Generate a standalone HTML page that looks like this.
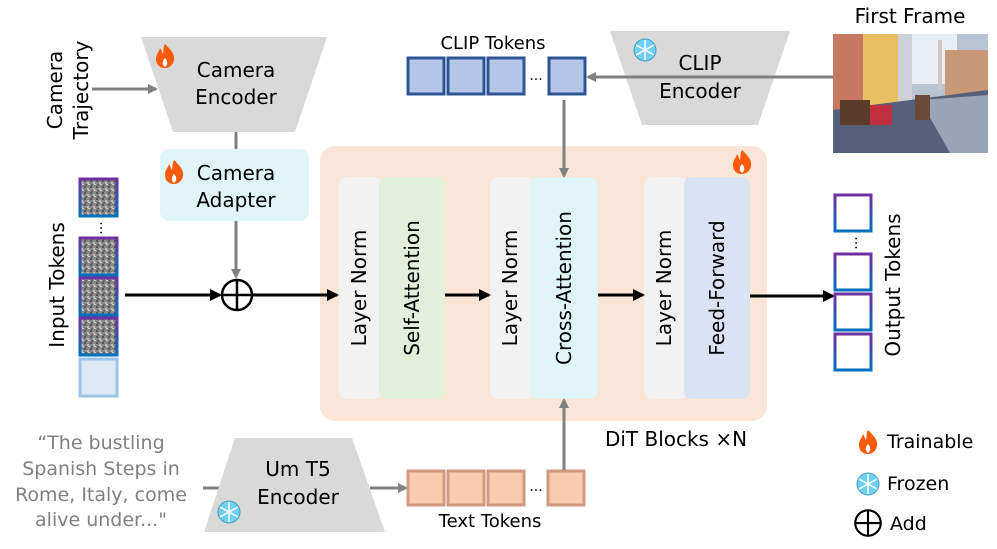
<!DOCTYPE html>
<html><head><meta charset="utf-8"><style>
html,body{margin:0;padding:0;background:#fff}
svg text{font-family:"DejaVu Sans","Liberation Sans",sans-serif}
</style></head><body>
<svg width="997" height="544" viewBox="0 0 997 544" xmlns="http://www.w3.org/2000/svg">
<defs>
<marker id="ag" markerWidth="10" markerHeight="10" refX="8" refY="5" orient="auto" markerUnits="userSpaceOnUse"><path d="M0,0 L10,5 L0,10 z" fill="#808080"/></marker>
<marker id="ab" markerWidth="12" markerHeight="12" refX="10" refY="6" orient="auto" markerUnits="userSpaceOnUse"><path d="M0,0 L12,6 L0,12 z" fill="#000"/></marker>
<linearGradient id="tg" x1="0" y1="0" x2="0" y2="1"><stop offset="0" stop-color="#7030a0"/><stop offset="1" stop-color="#0070c0"/></linearGradient>
<pattern id="noise" width="6" height="6" patternUnits="userSpaceOnUse"><rect width="6" height="6" fill="#888"/><rect x="0" y="0" width="2" height="2" fill="#555"/><rect x="3" y="2" width="2" height="2" fill="#bbb"/><rect x="1" y="4" width="2" height="2" fill="#666"/><rect x="4" y="4" width="2" height="1" fill="#ccc"/></pattern>
<g id="flame"><path d="M0,-12 C6,-6 10,-2 9,4 C8,10 3,12 0,12 C-5,12 -9,9 -9,3 C-9,-2 -6,-4 -5,-8 C-3,-5 -3,-3 -2,-2 C-1,-6 -2,-9 0,-12 z" fill="#ff5a0a"/><path d="M0,2 C3,5 3,9 0,11 C-3,9 -3,5 0,2z" fill="#fff"/></g>
<g id="snow"><circle r="11" fill="#6fd0f5" stroke="#4a9cc0" stroke-width="1"/><path d="M0,-10 V10 M-9,-5 L9,5 M-9,5 L9,-5" stroke="#fff" stroke-width="1.5"/></g>
<g id="plus"><circle r="15" fill="none" stroke="#000" stroke-width="2.5"/><path d="M-15,0 H15 M0,-15 V15" stroke="#000" stroke-width="2.5"/></g>
</defs>

<text transform="translate(62,90) rotate(-90)" font-size="20" text-anchor="middle">Camera</text>
<text transform="translate(88,90) rotate(-90)" font-size="20" text-anchor="middle">Trajectory</text>
<line x1="92" y1="89" x2="156" y2="89" stroke="#808080" stroke-width="3" marker-end="url(#ag)"/>

<polygon points="141,37 327,37 295,132 173,132" fill="#d9d9d9"/>
<use href="#flame" x="165" y="56"/>
<text x="236" y="77" font-size="20" text-anchor="middle">Camera</text>
<text x="236" y="104" font-size="20" text-anchor="middle">Encoder</text>
<line x1="236" y1="132" x2="236" y2="150" stroke="#808080" stroke-width="3"/>

<rect x="160" y="149" width="149" height="72" rx="9" fill="#dff5f8"/>
<use href="#flame" x="174" y="172"/>
<text x="236" y="180" font-size="20" text-anchor="middle">Camera</text>
<text x="236" y="207" font-size="20" text-anchor="middle">Adapter</text>
<line x1="236" y1="221" x2="236" y2="277" stroke="#808080" stroke-width="3" marker-end="url(#ag)"/>
<use href="#plus" x="237" y="295"/>

<text transform="translate(64,285) rotate(-90)" font-size="20" text-anchor="middle">Input Tokens</text>
<g>
<rect x="80" y="179" width="37" height="37" fill="url(#noise)" stroke="url(#tg)" stroke-width="3"/>
<text x="98" y="232" font-size="14" text-anchor="middle" transform="rotate(-90,98,228)">...</text>
<rect x="80" y="238" width="37" height="37" fill="url(#noise)" stroke="url(#tg)" stroke-width="3"/>
<rect x="80" y="278" width="37" height="37" fill="url(#noise)" stroke="url(#tg)" stroke-width="3"/>
<rect x="80" y="318" width="37" height="37" fill="url(#noise)" stroke="url(#tg)" stroke-width="3"/>
<rect x="80" y="359" width="37" height="37" fill="#dfe9f5" stroke="#9dc3e6" stroke-width="3"/>
</g>
<line x1="125" y1="295" x2="220" y2="295" stroke="#000" stroke-width="3" marker-end="url(#ab)"/>

<rect x="320" y="146" width="447" height="275" rx="15" fill="#fbe5d6"/>
<line x1="252" y1="295" x2="337" y2="295" stroke="#000" stroke-width="3" marker-end="url(#ab)"/>
<use href="#flame" x="742" y="162"/>
<rect x="339" y="177" width="44" height="222" rx="8" fill="#f2f2f2"/>
<rect x="379" y="177" width="66" height="222" rx="8" fill="#e2efda"/>
<rect x="490" y="177" width="44" height="222" rx="8" fill="#f2f2f2"/>
<rect x="530" y="177" width="68" height="222" rx="8" fill="#dff5f8"/>
<rect x="644" y="177" width="44" height="222" rx="8" fill="#f2f2f2"/>
<rect x="684" y="177" width="66" height="222" rx="8" fill="#dae3f3"/>
<text transform="translate(366,288) rotate(-90)" font-size="20" text-anchor="middle">Layer Norm</text>
<text transform="translate(419,288) rotate(-90)" font-size="20" text-anchor="middle">Self-Attention</text>
<text transform="translate(517,288) rotate(-90)" font-size="20" text-anchor="middle">Layer Norm</text>
<text transform="translate(571,288) rotate(-90)" font-size="20" text-anchor="middle">Cross-Attention</text>
<text transform="translate(671,288) rotate(-90)" font-size="20" text-anchor="middle">Layer Norm</text>
<text transform="translate(724,288) rotate(-90)" font-size="20" text-anchor="middle">Feed-Forward</text>
<line x1="445" y1="295" x2="489" y2="295" stroke="#000" stroke-width="3" marker-end="url(#ab)"/>
<line x1="598" y1="295" x2="643" y2="295" stroke="#000" stroke-width="3" marker-end="url(#ab)"/>
<line x1="750" y1="296" x2="833" y2="296" stroke="#000" stroke-width="3" marker-end="url(#ab)"/>
<text x="676" y="446" font-size="20" text-anchor="middle">DiT Blocks ×N</text>

<text x="493" y="49" font-size="18" text-anchor="middle">CLIP Tokens</text>
<g fill="#b4c7e7" stroke="#2f5597" stroke-width="3">
<rect x="408" y="58" width="36" height="36"/><rect x="448" y="58" width="36" height="36"/><rect x="488" y="58" width="36" height="36"/><rect x="549" y="58" width="36" height="36"/>
</g>
<text x="536" y="80" font-size="14" text-anchor="middle">...</text>
<line x1="564" y1="100" x2="564" y2="176" stroke="#808080" stroke-width="3" marker-end="url(#ag)"/>

<polygon points="610,31 790,31 758,125 642,125" fill="#d9d9d9"/>
<use href="#snow" x="645" y="50"/>
<text x="700" y="70" font-size="20" text-anchor="middle">CLIP</text>
<text x="700" y="98" font-size="20" text-anchor="middle">Encoder</text>
<line x1="833" y1="77" x2="588" y2="77" stroke="#808080" stroke-width="3" marker-end="url(#ag)"/>

<text x="910" y="23" font-size="20" text-anchor="middle">First Frame</text>
<g>
<rect x="833" y="34" width="155" height="119" fill="#b8c4d2"/>
<rect x="833" y="34" width="30" height="90" fill="#c87860"/>
<rect x="863" y="34" width="35" height="85" fill="#e8c060"/>
<rect x="898" y="34" width="14" height="85" fill="#cfcfd8"/>
<rect x="912" y="34" width="45" height="50" fill="#e8eef4"/>
<rect x="945" y="50" width="43" height="50" fill="#c89878"/>
<rect x="938" y="40" width="4" height="50" fill="#d0c8c0"/>
<polygon points="833,110 988,90 988,153 833,153" fill="#55607a"/>
<polygon points="920,100 988,95 988,153 950,153" fill="#9aa4b8"/>
<rect x="840" y="100" width="30" height="25" fill="#5a3a2a"/>
<rect x="870" y="105" width="22" height="20" fill="#c03040"/>
<rect x="915" y="95" width="15" height="25" fill="#6a4a3a"/>
</g>

<g fill="#fff" stroke="url(#tg)" stroke-width="3">
<rect x="835" y="195" width="36" height="36"/><rect x="835" y="254" width="36" height="36"/><rect x="835" y="294" width="36" height="36"/><rect x="835" y="334" width="36" height="36"/>
</g>
<text x="853" y="247" font-size="14" text-anchor="middle" transform="rotate(-90,853,243)">...</text>
<text transform="translate(900,285) rotate(-90)" font-size="20" text-anchor="middle">Output Tokens</text>

<g font-size="19" fill="#808080" text-anchor="middle">
<text x="101" y="449">“The bustling</text>
<text x="101" y="475">Spanish Steps in</text>
<text x="101" y="501">Rome, Italy, come</text>
<text x="101" y="526">alive under..."</text>
</g>
<line x1="203" y1="488" x2="220" y2="488" stroke="#808080" stroke-width="3"/>
<polygon points="235,438 352,438 385,532 204,532" fill="#d9d9d9"/>
<use href="#snow" x="229" y="512"/>
<text x="298" y="476" font-size="20" text-anchor="middle">Um T5</text>
<text x="298" y="504" font-size="20" text-anchor="middle">Encoder</text>
<line x1="370" y1="488" x2="406" y2="488" stroke="#808080" stroke-width="3" marker-end="url(#ag)"/>

<g fill="#f8cbad" stroke="#d09a80" stroke-width="3">
<rect x="408" y="471" width="36" height="34"/><rect x="448" y="471" width="36" height="34"/><rect x="488" y="471" width="36" height="34"/><rect x="548" y="471" width="36" height="34"/>
</g>
<text x="536" y="491" font-size="14" text-anchor="middle">...</text>
<line x1="564" y1="470" x2="564" y2="400" stroke="#808080" stroke-width="3" marker-end="url(#ag)"/>
<text x="490" y="527" font-size="18" text-anchor="middle">Text Tokens</text>

<use href="#flame" x="868" y="442"/>
<text x="887" y="448" font-size="19">Trainable</text>
<use href="#snow" x="868" y="484"/>
<text x="887" y="490" font-size="19">Frozen</text>
<use href="#plus" x="868" y="523" transform="translate(868,523) scale(0.85) translate(-868,-523)"/>
<text x="890" y="530" font-size="19">Add</text>
</svg>
</body></html>
